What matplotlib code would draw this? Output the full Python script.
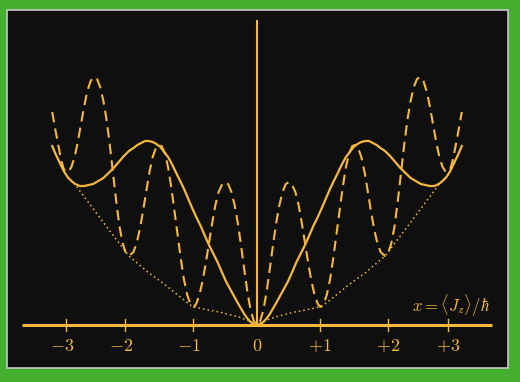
import matplotlib
matplotlib.use('Agg')
import matplotlib.pyplot as plt
from matplotlib.patches import Rectangle
import matplotlib.transforms as mtransforms
import numpy as np

plt.rcParams['mathtext.fontset'] = 'cm'
plt.rcParams['font.family'] = 'DejaVu Serif'

# right half of each curve (x >= 0), the picture is mirror symmetric
solid_x = [0.0, 0.05, 0.10, 0.15, 0.20, 0.25, 0.30, 0.36, 0.42, 0.48, 0.55,
           0.61, 0.68, 0.75, 0.82, 0.88, 0.95, 1.02, 1.08, 1.14, 1.20, 1.27,
           1.33, 1.39, 1.45, 1.51, 1.57, 1.63, 1.69, 1.75, 1.81, 1.87, 1.93,
           2.00, 2.08, 2.16, 2.24, 2.32, 2.40, 2.48, 2.56, 2.63, 2.70, 2.77,
           2.84, 2.90, 2.96, 3.02, 3.08, 3.14, 3.20]
solid_y = [0.0, 0.01, 0.03, 0.065, 0.11, 0.165, 0.22, 0.29, 0.36, 0.43, 0.53,
           0.62, 0.71, 0.80, 0.90, 0.99, 1.08, 1.18, 1.27, 1.36, 1.44, 1.53,
           1.61, 1.68, 1.73, 1.78, 1.81, 1.83, 1.84, 1.84, 1.82, 1.80, 1.77,
           1.74, 1.69, 1.63, 1.57, 1.52, 1.47, 1.44, 1.41, 1.40, 1.39, 1.39,
           1.41, 1.44, 1.48, 1.54, 1.62, 1.70, 1.79]

dashed_x = [0.0, 0.05, 0.10, 0.15, 0.20, 0.25, 0.30, 0.35, 0.40, 0.45, 0.50,
            0.55, 0.60, 0.65, 0.70, 0.75, 0.80, 0.85, 0.90, 0.95, 0.99,
            1.04, 1.09, 1.14, 1.19, 1.24, 1.29, 1.34, 1.39, 1.44, 1.49, 1.53,
            1.58, 1.63, 1.68, 1.73, 1.78, 1.83, 1.88, 1.93, 2.00,
            2.05, 2.10, 2.15, 2.20, 2.25, 2.30, 2.35, 2.40, 2.45, 2.50, 2.55,
            2.60, 2.65, 2.70, 2.75, 2.80, 2.85, 2.90, 2.95, 2.98,
            3.02, 3.06, 3.10, 3.15, 3.20]
dashed_y = [0.0, 0.04, 0.15, 0.33, 0.56, 0.80, 1.02, 1.20, 1.33, 1.41, 1.43,
            1.40, 1.33, 1.20, 1.02, 0.82, 0.62, 0.44, 0.30, 0.21, 0.18,
            0.21, 0.30, 0.45, 0.66, 0.90, 1.14, 1.38, 1.58, 1.72, 1.79, 1.80,
            1.77, 1.68, 1.53, 1.34, 1.14, 0.96, 0.82, 0.73, 0.69,
            0.72, 0.82, 0.99, 1.24, 1.52, 1.80, 2.05, 2.24, 2.38, 2.46, 2.48,
            2.44, 2.34, 2.19, 2.01, 1.83, 1.68, 1.58, 1.53, 1.53,
            1.56, 1.65, 1.78, 1.95, 2.13]

dotted_x = [0.0, 0.12, 0.28, 0.59, 0.91, 1.02, 1.22, 1.45, 1.69, 2.00, 2.31,
            2.58, 2.86]
dotted_y = [0.0, 0.04, 0.08, 0.13, 0.17, 0.19, 0.29, 0.41, 0.52, 0.69, 0.95,
            1.18, 1.42]

tick_pos = [-2.98, -2.06, -1.0, 0.0, 0.98, 2.05, 2.98]
tick_labels = ['$-3$', '$-2$', '$-1$', '$0$', '$+1$', '$+2$', '$+3$']

ORANGE = '#f5b83d'
GREEN = '#45b02f'
BLACK = '#0f0f0f'


def mirror(xs, ys):
    xs = np.asarray(xs)
    ys = np.asarray(ys)
    return np.concatenate([-xs[::-1], xs[1:]]), np.concatenate([ys[::-1], ys[1:]])


fig = plt.figure(figsize=(5.2, 3.82), dpi=100, facecolor=GREEN)

ax = fig.add_axes([0, 0, 1, 1])
ax.set_facecolor('none')
ax.set_xlim(-257 / 64, 263 / 64)
ax.set_ylim(-0.57, 3.25)
ax.axis('off')

# black panel with thin grey edge
ax.add_patch(Rectangle((6.5 / 520, 14 / 382), 501 / 520, 358 / 382,
                       transform=fig.transFigure, facecolor=BLACK,
                       edgecolor='#c8c8c8', linewidth=1.2, zorder=0))

# axes
ax.plot([-3.67, 3.67], [0, 0], color=ORANGE, lw=2.2, solid_capstyle='butt', zorder=2)
ax.plot([0, 0], [0, 3.05], color=ORANGE, lw=1.5, solid_capstyle='butt', zorder=2)
for t in tick_pos:
    if t != 0:
        ax.plot([t, t], [-0.06, 0.06], color=ORANGE, lw=1.0, zorder=2)

x, y = mirror(solid_x, solid_y)
ax.plot(x, y, color=ORANGE, lw=1.6, solid_joinstyle='round', zorder=3)
x, y = mirror(dashed_x, dashed_y)
ax.plot(x, y, color=ORANGE, lw=1.5, linestyle=(0, (5, 3)), zorder=3)
x, y = mirror(dotted_x, dotted_y)
ax.plot(x, y, color=ORANGE, lw=1.1, linestyle=(0, (1, 2)), zorder=3)

for t, lab in zip(tick_pos, tick_labels):
    dx = -4 if lab.startswith('$-') else 0
    tr = ax.transData + mtransforms.ScaledTranslation(dx / 100, 0, fig.dpi_scale_trans)
    ax.text(t, -0.21, lab, transform=tr, color=ORANGE, fontsize=13,
            ha='center', va='center')

ax.text(3.64, 0.19, r'$x = \langle J_z\rangle/\hbar$', color=ORANGE,
        fontsize=12, ha='right', va='center')

fig.savefig('out.png', dpi=100, facecolor=GREEN)
